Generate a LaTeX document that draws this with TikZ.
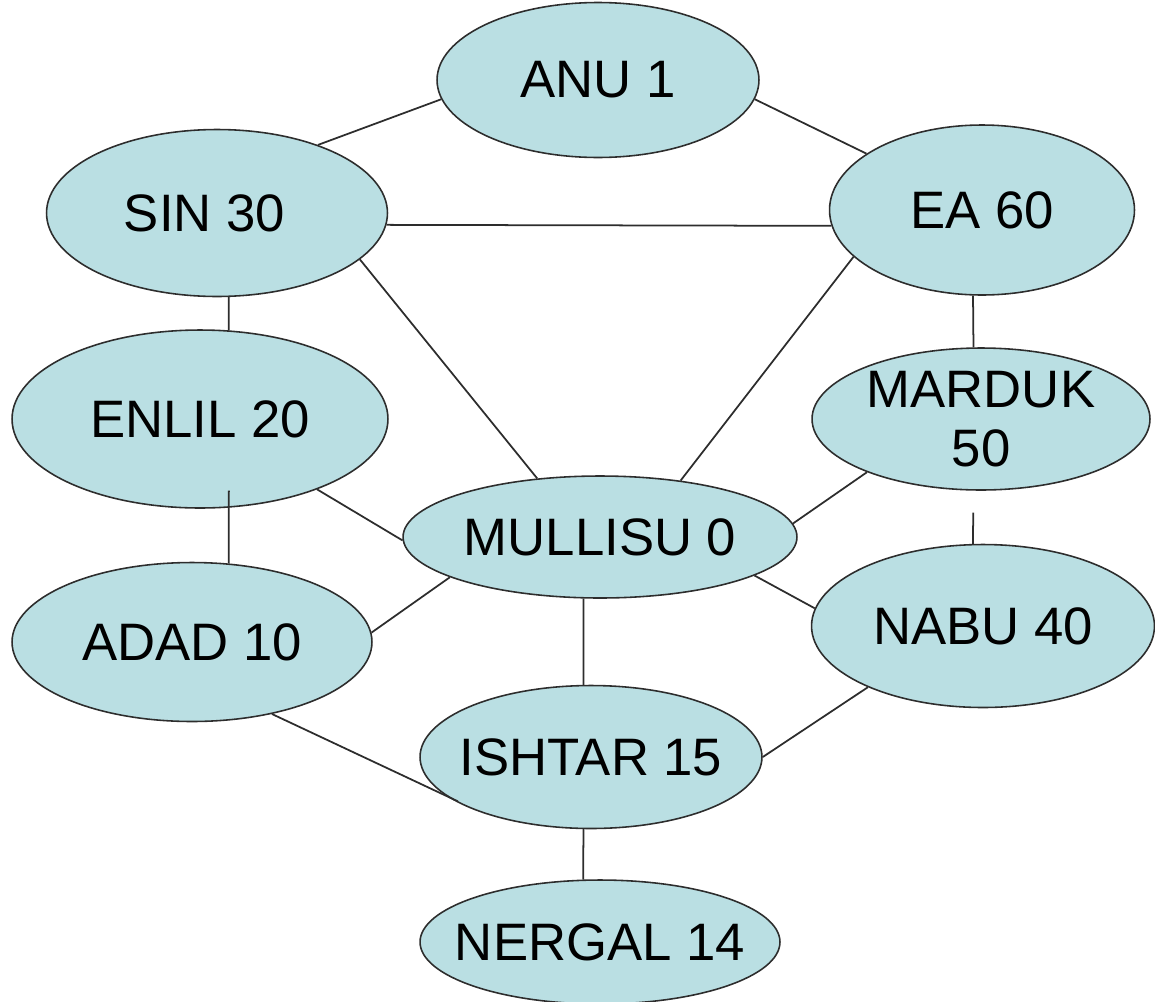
\documentclass[tikz,border=0pt]{standalone}
\usepackage{fontspec}
\setmainfont{Liberation Sans}
\usetikzlibrary{shapes.geometric}
\definecolor{godfill}{RGB}{186,223,227}
\definecolor{godline}{RGB}{45,45,45}
\begin{document}
\begin{tikzpicture}[x=0.02cm, y=-0.02cm,
    every node/.style={ellipse, draw=godline, fill=godfill, line width=0.9pt,
      inner xsep=-0.6cm, inner ysep=0pt, align=center, font=\fontsize{30}{34}\selectfont},
    link/.style={draw=godline, line width=1pt}]
      \useasboundingbox (0,0) rectangle (1155,1001);

      % the gods
      \node[minimum width=6.44cm, minimum height=3.1cm]  (anu)     at (598,80)  {ANU 1};
      \node[minimum width=6.82cm, minimum height=3.34cm] (sin)     at (217,213) {SIN 30\hspace*{0.5cm}};
      \node[minimum width=6.1cm,  minimum height=3.4cm]  (ea)      at (982,210) {EA 60};
      \node[minimum width=7.52cm, minimum height=3.56cm] (enlil)   at (200,419) {ENLIL 20};
      \node[minimum width=6.76cm, minimum height=2.84cm] (marduk)  at (981,419) {MARDUK\\50};
      \node[minimum width=7.88cm, minimum height=2.44cm] (mullisu) at (600,537) {MULLISU 0};
      \node[minimum width=7.2cm,  minimum height=3.18cm] (adad)    at (192,642) {ADAD 10};
      \node[minimum width=6.86cm, minimum height=3.26cm] (nabu)    at (983,626) {NABU 40};
      \node[minimum width=6.84cm, minimum height=2.86cm] (ishtar)  at (591,757) {ISHTAR 15};
      \node[minimum width=7.2cm,  minimum height=2.48cm] (nergal)  at (600,942) {NERGAL 14};

      % links
      \draw[link] (sin.34) -- (anu.187);
      \draw[link] (anu.-7) -- (ea.154);
      \draw[link] (sin.-4) -- (ea.186);
      \draw[link] (sin.-82.5) -- (enlil.72.5);
      \draw[link] (sin.-18.8) -- (mullisu.137);
      \draw[link] (ea.200) -- (mullisu.35.6);
      \draw[link] (ea.-96) -- (marduk.96.4);
      \draw[link] (enlil.-31) -- (mullisu.181);
      \draw[link, shorten <=-0.34cm] (enlil.-72.5) -- (adad.65.8);
      \draw[link] (marduk.205) -- (mullisu.4);
      \draw[link, shorten <=0.44cm] (marduk.-96.4) -- (nabu.97);
      \draw[link] (mullisu.195) -- (adad.3);
      \draw[link] (mullisu.-14.8) -- (nabu.174.6);
      \draw[link] (mullisu.-105.6) -- (ishtar.96.3);
      \draw[link, shorten >=-0.26cm] (adad.-42) -- (ishtar.195);
      \draw[link] (nabu.208) -- (ishtar.east);
      \draw[link] (ishtar.-96.4) -- (nergal.105);
    \end{tikzpicture}
\end{document}
